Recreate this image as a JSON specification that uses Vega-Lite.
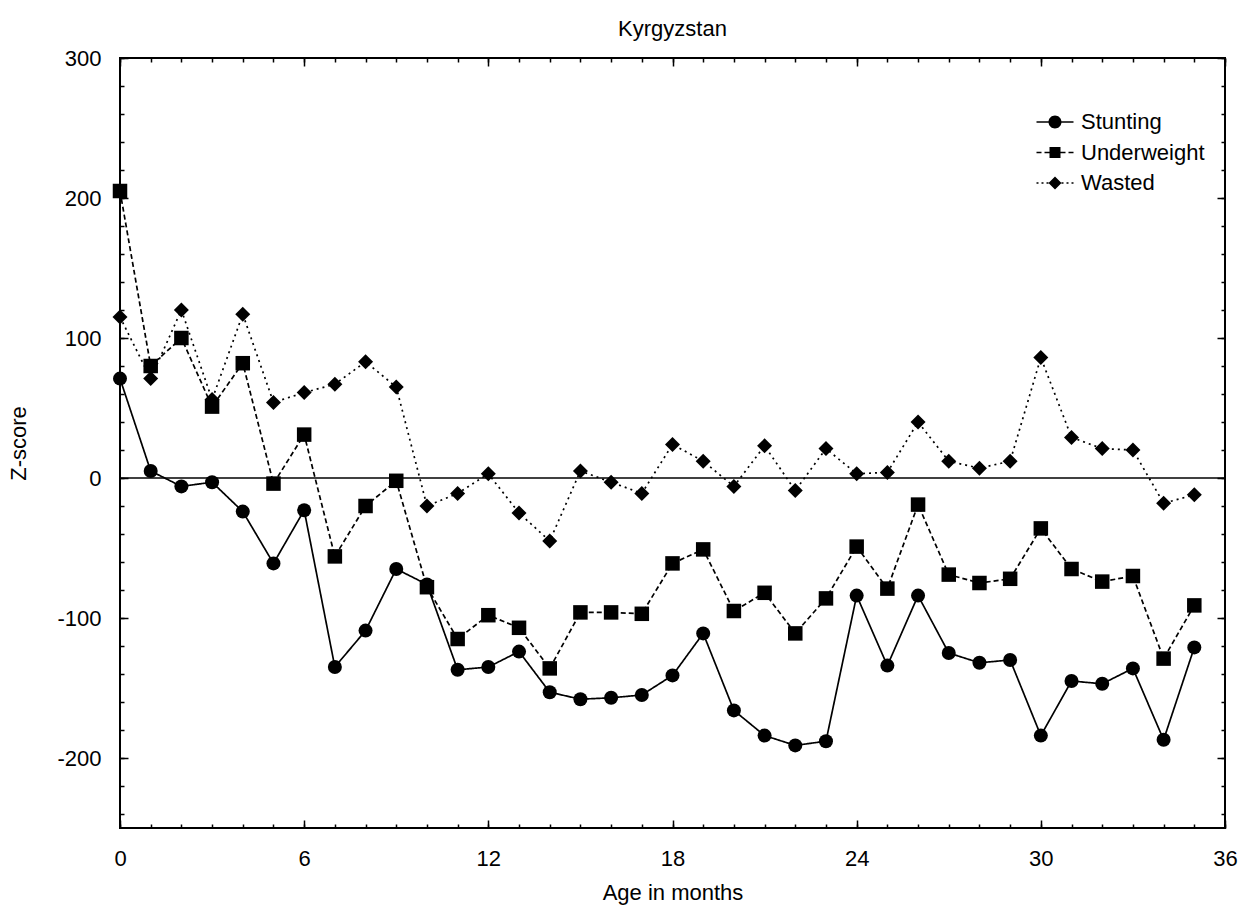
{
  "$schema": "https://vega.github.io/schema/vega-lite/v6.json",
  "width": 1105,
  "height": 770,
  "autosize": {"type": "none"},
  "padding": {"left": 120, "top": 58, "right": 24, "bottom": 87},
  "background": "white",
  "title": {"text": "Kyrgyzstan", "fontSize": 22, "font": "Liberation Sans", "fontWeight": "normal", "color": "black", "anchor": "middle", "offset": 6},
  "config": {
    "view": {"stroke": "black", "strokeWidth": 2},
    "axis": {
      "grid": false, "domain": false, "tickColor": "black", "tickWidth": 1.5, "tickSize": -8,
      "labelFont": "Liberation Sans", "labelFontSize": 22, "labelColor": "black",
      "labelOverlap": false, "labelBound": false, "labelFlush": false,
      "titleFont": "Liberation Sans", "titleFontSize": 22, "titleFontWeight": "normal", "titleColor": "black"
    }
  },
  "data": {"values": [
    {"month":0,"series":"Stunting","value":71},{"month":1,"series":"Stunting","value":5},{"month":2,"series":"Stunting","value":-6},{"month":3,"series":"Stunting","value":-3},{"month":4,"series":"Stunting","value":-24},{"month":5,"series":"Stunting","value":-61},{"month":6,"series":"Stunting","value":-23},{"month":7,"series":"Stunting","value":-135},{"month":8,"series":"Stunting","value":-109},{"month":9,"series":"Stunting","value":-65},{"month":10,"series":"Stunting","value":-76},{"month":11,"series":"Stunting","value":-137},{"month":12,"series":"Stunting","value":-135},{"month":13,"series":"Stunting","value":-124},{"month":14,"series":"Stunting","value":-153},{"month":15,"series":"Stunting","value":-158},{"month":16,"series":"Stunting","value":-157},{"month":17,"series":"Stunting","value":-155},{"month":18,"series":"Stunting","value":-141},{"month":19,"series":"Stunting","value":-111},{"month":20,"series":"Stunting","value":-166},{"month":21,"series":"Stunting","value":-184},{"month":22,"series":"Stunting","value":-191},{"month":23,"series":"Stunting","value":-188},{"month":24,"series":"Stunting","value":-84},{"month":25,"series":"Stunting","value":-134},{"month":26,"series":"Stunting","value":-84},{"month":27,"series":"Stunting","value":-125},{"month":28,"series":"Stunting","value":-132},{"month":29,"series":"Stunting","value":-130},{"month":30,"series":"Stunting","value":-184},{"month":31,"series":"Stunting","value":-145},{"month":32,"series":"Stunting","value":-147},{"month":33,"series":"Stunting","value":-136},{"month":34,"series":"Stunting","value":-187},{"month":35,"series":"Stunting","value":-121},
    {"month":0,"series":"Underweight","value":205},{"month":1,"series":"Underweight","value":80},{"month":2,"series":"Underweight","value":100},{"month":3,"series":"Underweight","value":51},{"month":4,"series":"Underweight","value":82},{"month":5,"series":"Underweight","value":-4},{"month":6,"series":"Underweight","value":31},{"month":7,"series":"Underweight","value":-56},{"month":8,"series":"Underweight","value":-20},{"month":9,"series":"Underweight","value":-2},{"month":10,"series":"Underweight","value":-78},{"month":11,"series":"Underweight","value":-115},{"month":12,"series":"Underweight","value":-98},{"month":13,"series":"Underweight","value":-107},{"month":14,"series":"Underweight","value":-136},{"month":15,"series":"Underweight","value":-96},{"month":16,"series":"Underweight","value":-96},{"month":17,"series":"Underweight","value":-97},{"month":18,"series":"Underweight","value":-61},{"month":19,"series":"Underweight","value":-51},{"month":20,"series":"Underweight","value":-95},{"month":21,"series":"Underweight","value":-82},{"month":22,"series":"Underweight","value":-111},{"month":23,"series":"Underweight","value":-86},{"month":24,"series":"Underweight","value":-49},{"month":25,"series":"Underweight","value":-79},{"month":26,"series":"Underweight","value":-19},{"month":27,"series":"Underweight","value":-69},{"month":28,"series":"Underweight","value":-75},{"month":29,"series":"Underweight","value":-72},{"month":30,"series":"Underweight","value":-36},{"month":31,"series":"Underweight","value":-65},{"month":32,"series":"Underweight","value":-74},{"month":33,"series":"Underweight","value":-70},{"month":34,"series":"Underweight","value":-129},{"month":35,"series":"Underweight","value":-91},
    {"month":0,"series":"Wasted","value":115},{"month":1,"series":"Wasted","value":71},{"month":2,"series":"Wasted","value":120},{"month":3,"series":"Wasted","value":56},{"month":4,"series":"Wasted","value":117},{"month":5,"series":"Wasted","value":54},{"month":6,"series":"Wasted","value":61},{"month":7,"series":"Wasted","value":67},{"month":8,"series":"Wasted","value":83},{"month":9,"series":"Wasted","value":65},{"month":10,"series":"Wasted","value":-20},{"month":11,"series":"Wasted","value":-11},{"month":12,"series":"Wasted","value":3},{"month":13,"series":"Wasted","value":-25},{"month":14,"series":"Wasted","value":-45},{"month":15,"series":"Wasted","value":5},{"month":16,"series":"Wasted","value":-3},{"month":17,"series":"Wasted","value":-11},{"month":18,"series":"Wasted","value":24},{"month":19,"series":"Wasted","value":12},{"month":20,"series":"Wasted","value":-6},{"month":21,"series":"Wasted","value":23},{"month":22,"series":"Wasted","value":-9},{"month":23,"series":"Wasted","value":21},{"month":24,"series":"Wasted","value":3},{"month":25,"series":"Wasted","value":4},{"month":26,"series":"Wasted","value":40},{"month":27,"series":"Wasted","value":12},{"month":28,"series":"Wasted","value":7},{"month":29,"series":"Wasted","value":12},{"month":30,"series":"Wasted","value":86},{"month":31,"series":"Wasted","value":29},{"month":32,"series":"Wasted","value":21},{"month":33,"series":"Wasted","value":20},{"month":34,"series":"Wasted","value":-18},{"month":35,"series":"Wasted","value":-12}
  ]},
  "layer": [
    {
      "data": {"values": [{"zero": 0}]},
      "mark": {"type": "rule", "color": "black", "strokeWidth": 1.5},
      "encoding": {
        "y": {"field": "zero", "type": "quantitative", "axis": null, "scale": {"domain": [-250, 300], "nice": false, "zero": false}}
      }
    },
    {
      "mark": {"type": "line", "color": "black", "strokeWidth": 1.7},
      "encoding": {
        "x": {"field": "month", "type": "quantitative", "title": "Age in months",
          "scale": {"domain": [0, 36], "nice": false, "zero": false},
          "axis": {"orient": "bottom", "values": [0, 6, 12, 18, 24, 30, 36], "format": "d", "labelPadding": 28, "titlePadding": 13}},
        "y": {"field": "value", "type": "quantitative", "title": "Z-score",
          "scale": {"domain": [-250, 300], "nice": false, "zero": false},
          "axis": {"orient": "left", "values": [300, 200, 100, 0, -100, -200],
            "labelExpr": "'' + datum.value", "labelPadding": 27, "titlePadding": 26}},
        "strokeDash": {"field": "series", "type": "nominal", "legend": null,
          "scale": {"domain": ["Stunting", "Underweight", "Wasted"], "range": [[1, 0], [5, 3], [2, 4]]}}
      }
    },
    {
      "mark": {"type": "point", "filled": true, "color": "black", "opacity": 1},
      "encoding": {
        "x": {"field": "month", "type": "quantitative",
          "axis": {"orient": "top", "values": [0, 6, 12, 18, 24, 30, 36], "labels": false, "title": null}},
        "y": {"field": "value", "type": "quantitative",
          "axis": {"orient": "right", "values": [300, 200, 100, 0, -100, -200], "labels": false, "title": null}},
        "shape": {"field": "series", "type": "nominal", "legend": null,
          "scale": {"domain": ["Stunting", "Underweight", "Wasted"], "range": ["circle", "square", "diamond"]}},
        "size": {"field": "series", "type": "nominal", "legend": null,
          "scale": {"domain": ["Stunting", "Underweight", "Wasted"], "range": [196, 225, 225]}}
      }
    },
    {
      "mark": {"type": "point", "filled": true, "color": "black", "opacity": 0, "size": 0},
      "encoding": {
        "x": {"field": "month", "type": "quantitative",
          "axis": {"orient": "bottom", "values": [0,1,2,3,4,5,6,7,8,9,10,11,12,13,14,15,16,17,18,19,20,21,22,23,24,25,26,27,28,29,30,31,32,33,34,35,36], "tickSize": -4, "labels": false, "title": null}},
        "y": {"field": "value", "type": "quantitative",
          "axis": {"orient": "left", "values": [300,280,260,240,220,200,180,160,140,120,100,80,60,40,20,0,-20,-40,-60,-80,-100,-120,-140,-160,-180,-200,-220,-240], "tickSize": -4, "labels": false, "title": null}},
        "shape": {"field": "series", "type": "nominal",
          "scale": {"domain": ["Stunting", "Underweight", "Wasted"], "range": [
            "M-1.85,-0.08L1.85,-0.08L1.85,0.08L-1.85,0.08ZM0.65,0A0.65,0.65,0,1,1,-0.65,0A0.65,0.65,0,1,1,0.65,0Z",
            "M-1.85,-0.08L-1.35,-0.08L-1.35,0.08L-1.85,0.08ZM-1.05,-0.08L-0.55,-0.08L-0.55,0.08L-1.05,0.08ZM0.55,-0.08L1.05,-0.08L1.05,0.08L0.55,0.08ZM1.35,-0.08L1.85,-0.08L1.85,0.08L1.35,0.08ZM-0.55,-0.55L0.55,-0.55L0.55,0.55L-0.55,0.55Z",
            "M-1.85,-0.08L-1.65,-0.08L-1.65,0.08L-1.85,0.08ZM-1.35,-0.08L-1.15,-0.08L-1.15,0.08L-1.35,0.08ZM-0.85,-0.08L-0.65,-0.08L-0.65,0.08L-0.85,0.08ZM0.65,-0.08L0.85,-0.08L0.85,0.08L0.65,0.08ZM1.15,-0.08L1.35,-0.08L1.35,0.08L1.15,0.08ZM1.65,-0.08L1.85,-0.08L1.85,0.08L1.65,0.08ZM0,-0.65L0.65,0L0,0.65L-0.65,0Z"]},
          "legend": {"orient": "none", "legendX": 924, "legendY": 53, "title": null,
            "labelFont": "Liberation Sans", "labelFontSize": 22, "labelColor": "black", "labelOffset": 15,
            "symbolSize": 400, "rowPadding": 8.5, "symbolStrokeWidth": 0, "symbolFillColor": "black", "symbolOpacity": 1}}
      }
    },
    {
      "mark": {"type": "point", "filled": true, "color": "black", "opacity": 0, "size": 0},
      "encoding": {
        "x": {"field": "month", "type": "quantitative",
          "axis": {"orient": "top", "values": [0,1,2,3,4,5,6,7,8,9,10,11,12,13,14,15,16,17,18,19,20,21,22,23,24,25,26,27,28,29,30,31,32,33,34,35,36], "tickSize": -4, "labels": false, "title": null}},
        "y": {"field": "value", "type": "quantitative",
          "axis": {"orient": "right", "values": [300,280,260,240,220,200,180,160,140,120,100,80,60,40,20,0,-20,-40,-60,-80,-100,-120,-140,-160,-180,-200,-220,-240], "tickSize": -4, "labels": false, "title": null}}
      }
    }
  ],
  "resolve": {"scale": {"shape": "independent"}, "axis": {"x": "independent", "y": "independent"}}
}
